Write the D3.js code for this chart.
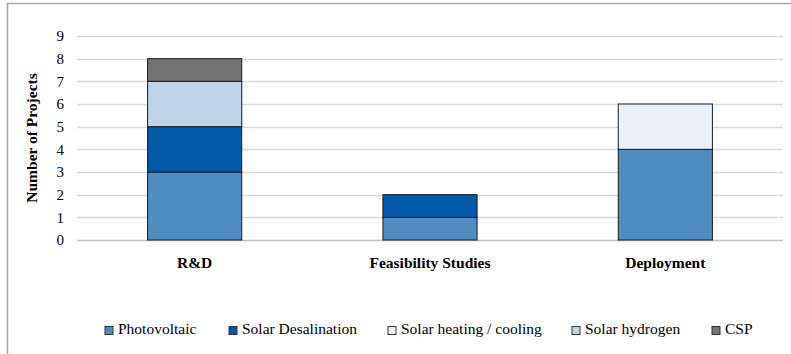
<!DOCTYPE html>
<html>
<head>
<meta charset="UTF-8"/>
<script src="https://d3js.org/d3.v7.min.js"></script>
<style>
body { margin: 0; background: white; }
text { font-family: "Liberation Serif", "Times New Roman", serif; fill: #000; }
</style>
</head>
<body>
<div id="chart"></div>
<script>
// data
var categories = ["R&D", "Feasibility Studies", "Deployment"];
var seriesNames = ["Photovoltaic", "Solar Desalination", "Solar heating / cooling", "Solar hydrogen", "CSP"];
var photovoltaic = [3, 1, 4];
var desalination = [2, 1, 0];
var heatingCooling = [0, 0, 2];
var hydrogen = [2, 0, 0];
var csp = [1, 0, 0];
var yTicks = [0, 1, 2, 3, 4, 5, 6, 7, 8, 9];
var colors = ["#4e8cc4", "#005aa9", "#e9f0f8", "#bed4e9", "#737373"];

var width = 791, height = 354;
var plotLeft = 77, plotRight = 783, plotTop = 36, plotBottom = 240;

var svg = d3.select("#chart").append("svg")
	.attr("width", width)
	.attr("height", height);

// outer frame (only top and left visible)
svg.append("path")
	.attr("d", "M7.5,354 V3.5 H791")
	.attr("fill", "none")
	.attr("stroke", "#a6a6a6")
	.attr("stroke-width", 1.5);

var x = d3.scaleBand()
	.domain(categories)
	.range([plotLeft, plotRight])
	.paddingInner(0.6)
	.paddingOuter(0.3);

var y = d3.scaleLinear()
	.domain([0, 9])
	.range([plotBottom, plotTop]);

// gridlines
svg.append("g").selectAll("line")
	.data(yTicks)
	.enter().append("line")
	.attr("x1", plotLeft)
	.attr("x2", plotRight)
	.attr("y1", function(d) { return Math.round(y(d)) + 0.5; })
	.attr("y2", function(d) { return Math.round(y(d)) + 0.5; })
	.attr("stroke", function(d) { return d == 0 ? "#bfbfbf" : "#d9d9d9"; })
	.attr("stroke-width", 1.3);

// stacked bars
var rows = categories.map(function(c, i) {
	return { cat: c, "Photovoltaic": photovoltaic[i], "Solar Desalination": desalination[i],
		"Solar heating / cooling": heatingCooling[i], "Solar hydrogen": hydrogen[i], "CSP": csp[i] };
});
var stack = d3.stack().keys(seriesNames)(rows);

svg.append("g").selectAll("g")
	.data(stack)
	.enter().append("g")
	.attr("fill", function(d, i) { return colors[i]; })
	.selectAll("rect")
	.data(function(d) { return d.filter(function(p) { return p[1] > p[0]; }); })
	.enter().append("rect")
	.attr("x", function(d) { return x(d.data.cat); })
	.attr("y", function(d) { return y(d[1]); })
	.attr("width", x.bandwidth())
	.attr("height", function(d) { return y(d[0]) - y(d[1]); })
	.attr("stroke", "#1a1a1a")
	.attr("stroke-width", 1);

// y axis labels
svg.append("g").selectAll("text")
	.data(yTicks)
	.enter().append("text")
	.attr("x", 64)
	.attr("y", function(d) { return y(d); })
	.attr("dy", "0.35em")
	.attr("text-anchor", "end")
	.attr("font-size", 15)
	.text(function(d) { return d; });

svg.append("text")
	.attr("transform", "translate(37," + ((plotTop + plotBottom) / 2) + ") rotate(-90)")
	.attr("text-anchor", "middle")
	.attr("font-size", 15.5)
	.attr("font-weight", "bold")
	.text("Number of Projects");

// category labels
svg.append("g").selectAll("text")
	.data(categories)
	.enter().append("text")
	.attr("x", function(d) { return x(d) + x.bandwidth() / 2; })
	.attr("y", 268)
	.attr("text-anchor", "middle")
	.attr("font-size", 15.5)
	.attr("font-weight", "bold")
	.text(function(d) { return d; });

// legend
var legendX = [105, 229, 388, 572, 712];
var legend = svg.append("g").selectAll("g")
	.data(seriesNames)
	.enter().append("g")
	.attr("transform", function(d, i) { return "translate(" + legendX[i] + ",326.5)"; });

legend.append("rect")
	.attr("width", 8)
	.attr("height", 8)
	.attr("fill", function(d, i) { return colors[i]; })
	.attr("stroke", "#333")
	.attr("stroke-width", 1);

legend.append("text")
	.attr("x", 13)
	.attr("y", 7.5)
	.attr("font-size", 15.5)
	.text(function(d) { return d; });
</script>
</body>
</html>
